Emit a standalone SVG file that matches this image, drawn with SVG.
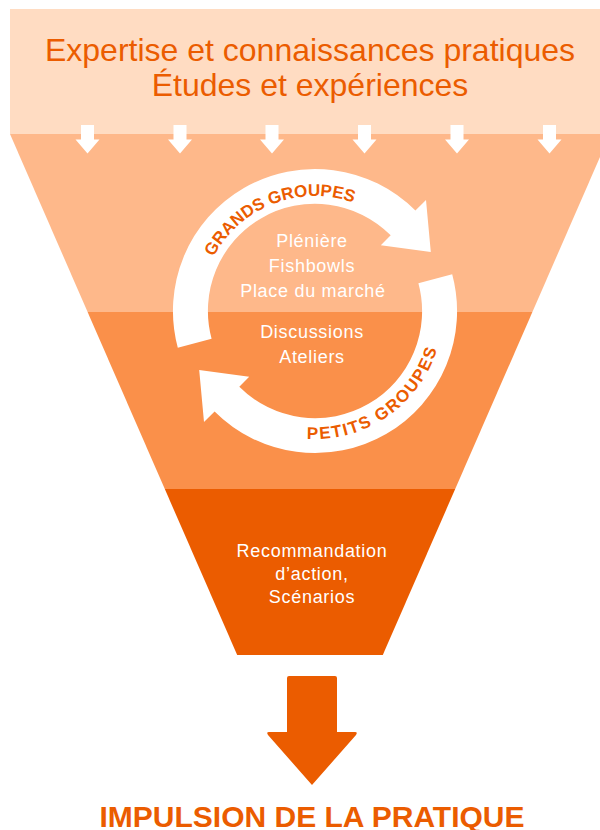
<svg xmlns="http://www.w3.org/2000/svg" width="600" height="830" viewBox="0 0 600 830">
<style>
.title{font-family:"Liberation Sans",Arial,sans-serif;font-size:32px;fill:#EB5C00;text-anchor:middle}
.inner{font-family:"Liberation Sans",Arial,sans-serif;font-size:18px;fill:#ffffff;text-anchor:middle;letter-spacing:0.7px}
.arc{font-family:"Liberation Sans",Arial,sans-serif;font-size:17px;font-weight:bold;fill:#EB5C00}
.out{font-family:"Liberation Sans",Arial,sans-serif;font-size:30px;font-weight:bold;fill:#EB5C00;text-anchor:middle}
</style>
<defs>
<path id="smallArrow" d="M-6.5,125 H6.5 V139.5 H12 L0,153.5 L-12,139.5 H-6.5 Z" fill="#ffffff"/>
<path id="cycleArrow" d="M177.8,347.8 A142,142 0 0,1 415.4,210.6 L426,200 L430.8,252 L380.8,245.2 L390.7,235.3 A107,107 0 0,0 211.6,338.7 Z" fill="#ffffff"/>
<path id="arcTop" d="M200,311 A115,115 0 0,1 430,311" fill="none"/>
<path id="arcBottom" d="M187,311 A128,128 0 0,0 443,311" fill="none"/>
</defs>

<g id="banner">
<rect x="10" y="9" width="590" height="125" fill="#FFDCC2"/>
<text class="title" x="310" y="61">Expertise et connaissances pratiques</text>
<text class="title" x="310" y="96">Études et expériences</text>
</g>

<g id="funnel-band1">
<polygon points="10,134 610,134 532.4,312 87.6,312" fill="#FEB88A"/>
</g>
<g id="funnel-band2">
<polygon points="87.6,312 532.4,312 455.2,489 164.8,489" fill="#FA904A"/>
</g>
<g id="funnel-band3">
<polygon points="164.8,489 455.2,489 382.8,655 237.2,655" fill="#EB5C00"/>
<text class="inner" x="312" y="557">Recommandation</text>
<text class="inner" x="312" y="580">d’action,</text>
<text class="inner" x="312" y="603">Scénarios</text>
</g>

<g id="connectors">
<use href="#smallArrow" x="87.5"/>
<use href="#smallArrow" x="180"/>
<use href="#smallArrow" x="272"/>
<use href="#smallArrow" x="364.5"/>
<use href="#smallArrow" x="457"/>
<use href="#smallArrow" x="549.5"/>
<path d="M289,676 H335 Q337,676 337,678 V732 H355 Q358,732 356,735 L312,785 L268,735 Q266,732 269,732 H287 V678 Q287,676 289,676 Z" fill="#EB5C00"/>
</g>

<g id="grands-groupes">
<use href="#cycleArrow"/>
<text class="arc"><textPath href="#arcTop" startOffset="38.2%" text-anchor="middle">GRANDS GROUPES</textPath></text>
<text class="inner" x="312" y="247">Plénière</text>
<text class="inner" x="312" y="272">Fishbowls</text>
<text class="inner" x="313" y="297">Place du marché</text>
</g>

<g id="petits-groupes">
<use href="#cycleArrow" transform="rotate(180 315 311)"/>
<text class="arc" letter-spacing="1.6"><textPath href="#arcBottom" startOffset="69.3%" text-anchor="middle">PETITS GROUPES</textPath></text>
<text class="inner" x="312" y="338">Discussions</text>
<text class="inner" x="312" y="363">Ateliers</text>
</g>

<g id="result">
<text class="out" x="312" y="827">IMPULSION DE LA PRATIQUE</text>
</g>
</svg>
